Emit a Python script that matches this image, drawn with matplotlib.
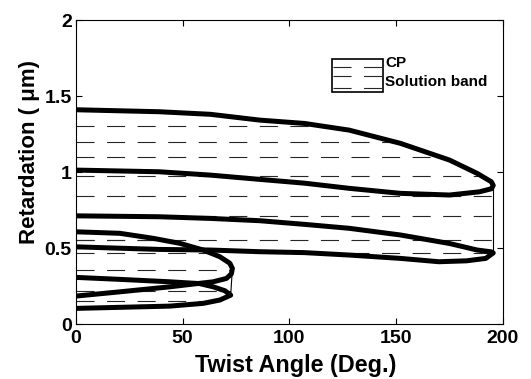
import matplotlib
matplotlib.use("Agg")
import matplotlib.pyplot as plt
import numpy as np
from matplotlib.patches import Polygon, Rectangle

plt.rcParams['font.family'] = ['Liberation Sans', 'DejaVu Sans']
plt.rcParams['font.weight'] = 'bold'
plt.rcParams['lines.scale_dashes'] = False

# upper CP band
b1_top_x = [0, 39, 63, 86, 107, 128, 152, 175, 188, 194.6, 195.5]
b1_top_y = [1.41, 1.397, 1.38, 1.342, 1.32, 1.276, 1.189, 1.079, 0.991, 0.936, 0.912]
b1_bot_x = [0, 39, 63, 86, 107, 128, 152, 175, 189, 194.6, 195.5]
b1_bot_y = [1.013, 1.002, 0.98, 0.952, 0.927, 0.893, 0.86, 0.849, 0.87, 0.89, 0.912]

# middle CP band
b2_top_x = [0, 39, 63, 86, 107, 128, 152, 175, 188, 194.6, 195.5]
b2_top_y = [0.712, 0.706, 0.695, 0.68, 0.656, 0.63, 0.586, 0.53, 0.487, 0.475, 0.468]
b2_bot_x = [0, 39, 63, 86, 107, 128, 152, 170, 183, 192, 195.5]
b2_bot_y = [0.508, 0.491, 0.487, 0.476, 0.47, 0.454, 0.432, 0.41, 0.416, 0.432, 0.468]

# two small loops near the origin
s1_top_x = [0, 20.6, 36.2, 48.7, 59.6, 67.4, 72.1, 73.3]
s1_top_y = [0.607, 0.597, 0.564, 0.531, 0.487, 0.443, 0.4, 0.366]
s1_bot_x = [0, 20.6, 44, 58, 64.3, 70.5, 72.8, 73.3]
s1_bot_y = [0.184, 0.212, 0.245, 0.268, 0.278, 0.30, 0.33, 0.366]

s2_top_x = [0, 20.6, 44, 58, 64.3, 69.8, 72.5]
s2_top_y = [0.307, 0.294, 0.278, 0.266, 0.245, 0.219, 0.19]
s2_bot_x = [0, 20.6, 44, 59.6, 67.4, 72.5]
s2_bot_y = [0.103, 0.11, 0.118, 0.136, 0.158, 0.19]

# retardation levels of the solution band hatch
band_levels = [1.305, 1.20, 1.10, 0.975, 0.845, 0.708, 0.553, 0.465, 0.355, 0.22, 0.153]

fig = plt.figure(figsize=(5.31, 3.79), dpi=100)
ax = fig.add_axes([0.143, 0.145, 0.804, 0.802])

dash = (0, (13, 9))

# clip regions for the hatch
r1 = Polygon(np.column_stack([b1_top_x + b2_bot_x[::-1], b1_top_y + b2_bot_y[::-1]]),
             closed=True, transform=ax.transData, fill=False, lw=0)
r2 = Polygon(np.column_stack([s1_top_x + s2_bot_x[::-1], s1_top_y + s2_bot_y[::-1]]),
             closed=True, transform=ax.transData, fill=False, lw=0)
for reg in (r1, r2):
    lc = ax.hlines(band_levels, 0, 200, colors='0.15', linestyles=[dash], lw=0.8)
    lc.set_clip_path(reg)

# band edges at the tips
ax.plot([b1_top_x[-1], b2_top_x[-1]], [b1_top_y[-1], b2_top_y[-1]], color='k', lw=0.8)
ax.plot([s1_top_x[-1], s2_top_x[-1]], [s1_top_y[-1], s2_top_y[-1]], color='k', lw=0.8)

# CP curves
for tx, ty, bx, by in [(b1_top_x, b1_top_y, b1_bot_x, b1_bot_y),
                       (b2_top_x, b2_top_y, b2_bot_x, b2_bot_y),
                       (s1_top_x, s1_top_y, s1_bot_x, s1_bot_y),
                       (s2_top_x, s2_top_y, s2_bot_x, s2_bot_y)]:
    ax.plot(tx + bx[::-1], ty + by[::-1], color='k', lw=3.6,
            solid_joinstyle='round', solid_capstyle='butt')

# legend box drawn by hand
ax.add_patch(Rectangle((0.6, 0.763), 0.1185, 0.1085, transform=ax.transAxes,
                       fill=False, ec='k', lw=1.2))
for ly in [0.846, 0.815, 0.776]:
    ax.plot([0.603, 0.716], [ly, ly], transform=ax.transAxes, color='0.15',
            lw=0.8, ls=dash)
ax.text(0.724, 0.86, 'CP', transform=ax.transAxes, fontsize=11,
        fontweight='bold', va='center')
ax.text(0.724, 0.795, 'Solution band', transform=ax.transAxes, fontsize=11,
        fontweight='bold', va='center')

ax.set_xlim(0, 200)
ax.set_ylim(0, 2)
ax.set_xticks([0, 50, 100, 150, 200])
ax.set_xticklabels(['0', '50', '100', '150', '200'], fontweight='bold')
ax.set_yticks([0, 0.5, 1, 1.5, 2])
ax.set_yticklabels(['0', '0.5', '1', '1.5', '2'], fontweight='bold')
ax.tick_params(direction='in', length=4, width=0.8, top=True, right=True, labelsize=14)
ax.tick_params(axis='x', pad=4)
ax.tick_params(axis='y', pad=3)
for s in ax.spines.values():
    s.set_linewidth(0.8)

ax.set_xlabel('Twist Angle (Deg.)', fontsize=16.8, fontweight='bold')
ax.set_ylabel('Retardation ( \u03bcm)', fontsize=16, fontweight='bold')
ax.xaxis.set_label_coords(0.515, -0.1)
ax.yaxis.set_label_coords(-0.108, 0.566)
ax.xaxis.label.set_va('top')
ax.yaxis.label.set_va('center')

fig.savefig('out.png', dpi=100)
